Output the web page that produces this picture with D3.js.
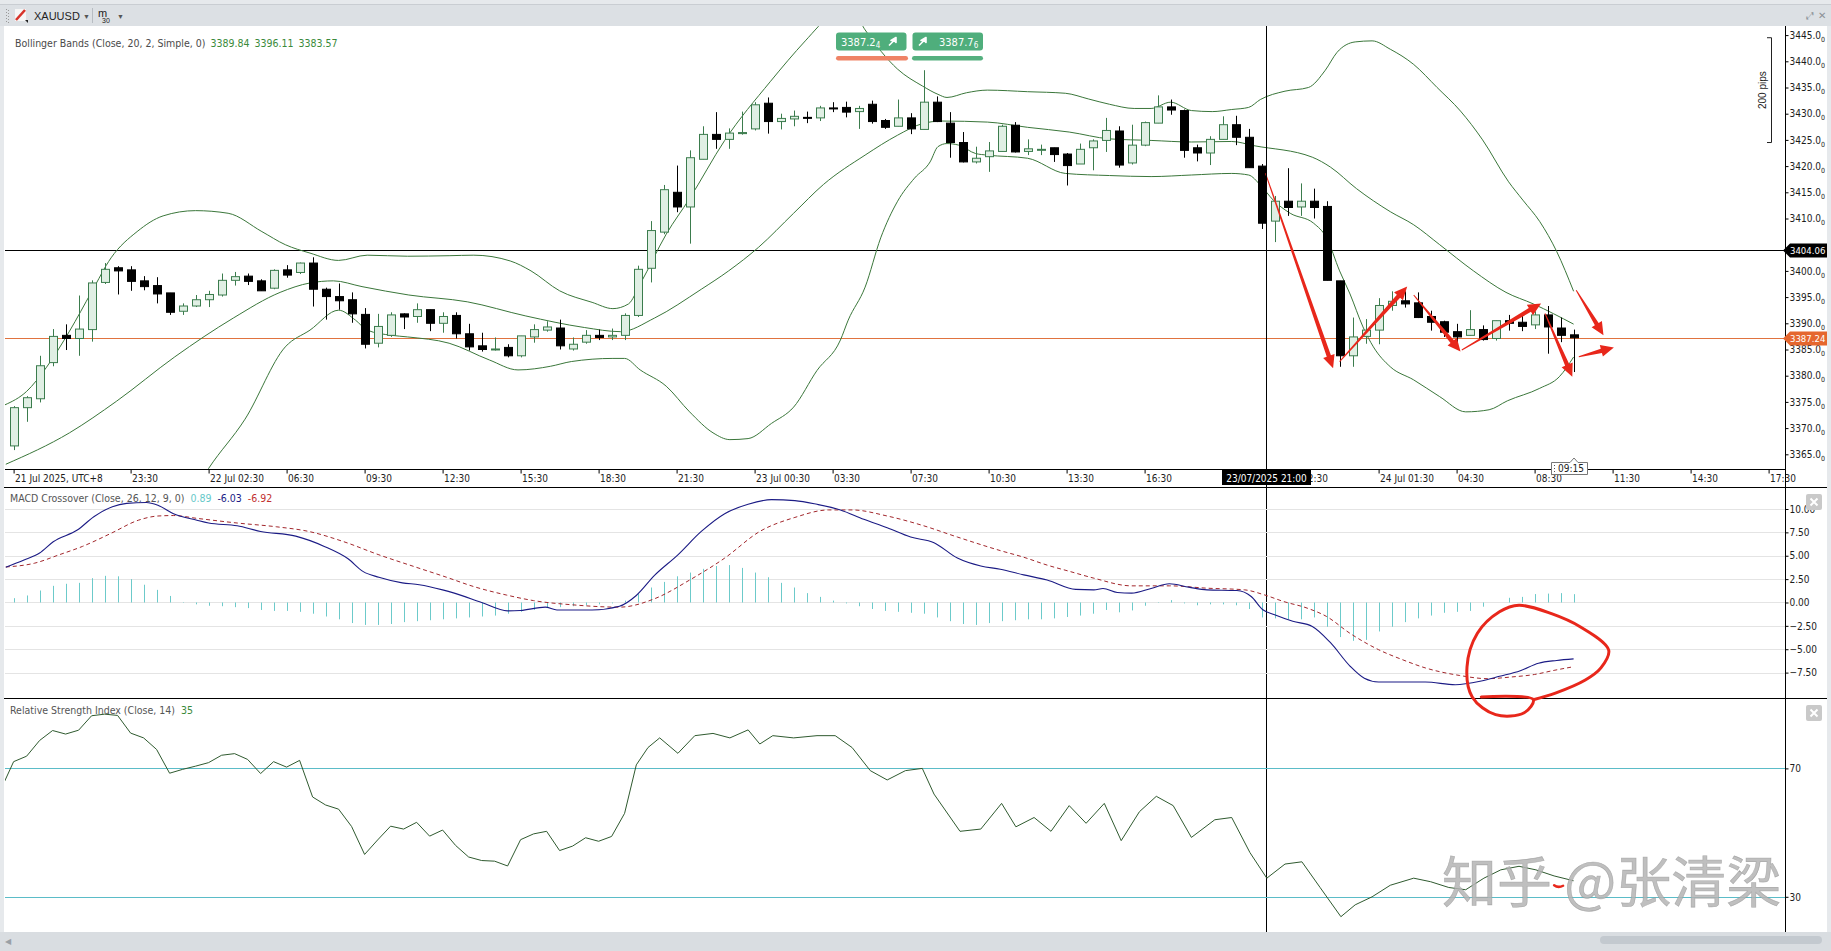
<!DOCTYPE html>
<html><head><meta charset="utf-8">
<script src="https://cdn.jsdelivr.net/npm/d3@7/dist/d3.min.js"></script>
<style>
html,body{margin:0;padding:0;background:#e6e9ec;}
svg{display:block}
</style>
</head><body>
<svg id="c" width="1831" height="951"></svg>
<script>
// ---------------- DATA ----------------
// 30-minute candles, index 0 = 21 Jul 19:00 (UTC+8) ... index 120 = 24 Jul 10:00
const opens=[3366.6,3373.9,3375.6,3382.5,3387.7,3387.1,3388.8,3397.8,3400.6,3400.2,
 3398.1,3397.2,3395.8,3392.3,3393.3,3394.5,3395.4,3398.2,3399.0,3398.1,
 3396.7,3400.2,3399.7,3401.5,3396.5,3395.1,3394.5,3391.7,3386.2,3387.7,
 3391.8,3391.3,3392.6,3390.0,3391.5,3388.0,3385.7,3385.0,3385.4,3383.8,
 3387.4,3388.7,3389.1,3385.1,3386.4,3387.7,3387.4,3387.7,3391.5,3400.5,
 3407.4,3415.0,3412.2,3421.3,3426.05,3425.1,3426.2,3427.1,3432.0,3428.5,
 3429.0,3429.3,3429.2,3431.1,3431.2,3430.4,3431.8,3428.7,3427.6,3429.2,
 3427.0,3432.2,3428.2,3424.5,3420.8,3421.8,3422.8,3427.8,3422.8,3423.2,
 3423.5,3422.3,3420.4,3423.5,3424.9,3426.7,3420.6,3424.0,3428.2,3431.3,
 3430.6,3423.5,3422.5,3425.1,3427.9,3425.5,3420.0,3409.5,3413.3,3412.2,
 3413.3,3412.3,3398.1,3383.8,3387.5,3388.7,3393.4,3394.3,3393.9,3391.3,
 3390.3,3388.4,3387.7,3388.8,3387.1,3390.5,3390.2,3389.7,3391.6,3389.1,
 3387.8];
const highs=[3374.2,3376.1,3383.8,3388.9,3389.8,3395.3,3398.2,3401.5,3400.9,3400.9,
 3399.0,3398.8,3395.8,3393.8,3395.4,3396.2,3399.5,3399.8,3399.5,3398.4,
 3400.3,3401.1,3401.6,3402.6,3396.8,3397.6,3395.9,3392.9,3391.8,3392.1,
 3391.9,3393.8,3392.6,3392.1,3392.1,3389.9,3388.2,3387.3,3386.0,3387.6,
 3389.8,3390.4,3390.7,3387.3,3388.7,3388.8,3389.0,3391.9,3401.0,3409.5,
 3416.4,3420.1,3423.0,3427.6,3430.3,3427.2,3430.4,3432.2,3433.1,3430.0,
 3430.6,3430.4,3431.5,3432.2,3432.3,3431.5,3432.5,3429.0,3432.7,3430.1,
 3438.3,3433.3,3430.3,3426.5,3423.7,3424.6,3427.9,3428.4,3425.1,3424.1,
 3423.5,3422.5,3424.3,3425.1,3429.2,3427.6,3427.9,3428.5,3433.5,3432.7,
 3430.8,3424.1,3425.7,3429.5,3429.6,3427.1,3420.4,3414.3,3419.6,3416.7,
 3415.7,3413.3,3398.1,3391.1,3390.8,3394.8,3396.1,3396.1,3395.9,3392.4,
 3390.5,3389.9,3392.5,3389.6,3390.5,3391.6,3391.8,3392.3,3393.3,3391.1,
 3388.8];
const lows=[3365.8,3371.2,3374.9,3381.8,3384.9,3383.8,3386.5,3397.5,3395.5,3396.2,
 3396.3,3393.8,3391.6,3391.6,3393.1,3393.1,3395.1,3397.2,3397.3,3396.2,
 3396.5,3398.7,3399.4,3393.2,3390.7,3392.6,3390.1,3385.2,3385.4,3387.4,
 3388.9,3390.1,3388.5,3388.2,3387.1,3384.8,3384.6,3384.8,3383.5,3383.5,
 3386.3,3388.4,3385.0,3384.8,3386.1,3386.8,3386.8,3386.8,3391.2,3397.8,
 3407.0,3411.2,3405.2,3421.3,3423.3,3423.3,3426.0,3426.8,3426.2,3427.0,
 3427.6,3428.2,3428.6,3430.3,3429.3,3427.1,3428.1,3427.1,3427.6,3426.1,
 3427.0,3428.4,3421.6,3420.7,3420.5,3418.9,3422.8,3422.6,3422.1,3422.1,
 3420.8,3416.3,3420.4,3419.2,3422.7,3419.7,3420.3,3423.8,3428.2,3429.8,
 3421.6,3420.9,3420.2,3425.1,3424.0,3419.7,3408.0,3405.5,3410.5,3410.5,
 3410.0,3398.2,3381.7,3381.7,3386.1,3386.0,3392.4,3393.0,3391.0,3388.6,
 3387.4,3386.1,3387.7,3386.7,3386.7,3388.6,3388.5,3388.9,3384.2,3386.4,
 3380.7];
const closes=[3373.9,3375.8,3381.9,3387.5,3387.1,3388.9,3397.7,3400.3,3400.0,3398.0,
 3397.0,3395.6,3392.1,3393.3,3394.5,3395.5,3398.2,3398.9,3398.0,3396.2,
 3400.1,3399.2,3401.5,3396.5,3395.1,3394.3,3391.8,3386.0,3389.4,3391.6,
 3391.2,3392.6,3390.0,3391.3,3388.0,3385.5,3385.0,3385.1,3383.8,3387.6,
 3388.8,3389.3,3385.7,3386.0,3387.7,3387.3,3387.7,3391.5,3400.3,3407.7,
 3415.5,3412.2,3421.6,3426.05,3425.1,3426.3,3426.4,3431.7,3428.5,3429.1,
 3429.5,3429.25,3431.1,3431.05,3430.3,3431.0,3428.5,3427.4,3429.2,3427.1,
 3432.2,3428.5,3424.5,3420.8,3421.5,3422.9,3427.6,3422.7,3423.3,3423.2,
 3422.2,3420.1,3423.2,3424.8,3426.8,3420.2,3424.0,3428.3,3431.3,3430.7,
 3423.0,3422.5,3425.1,3427.9,3425.5,3419.7,3409.1,3413.3,3412.1,3413.3,
 3412.1,3398.2,3383.8,3387.4,3388.7,3393.4,3394.2,3393.7,3391.1,3390.2,
 3388.3,3387.4,3388.8,3386.9,3390.5,3390.0,3389.4,3391.6,3389.3,3387.7,
 3387.24];

// Bollinger bands: [candle index, price]
const bbUpper=[[-0.7,3374.4],[1,3377],[2.5,3381.5],[4.3,3388.5],[6,3396],[7.5,3402.5],[9.5,3407.5],[11.5,3410.5],[14,3411.5],[16.5,3411],[19.1,3407.5],[20.9,3405],[22.8,3403.4],[25,3402],[27.2,3403],[30.3,3402.8],[33.5,3402.9],[35.4,3403],[38.2,3401.9],[39.8,3400],[42,3396.2],[44.5,3394],[46.1,3392.8],[47.3,3393.7],[48.2,3397.5],[50.2,3407],[52,3413.8],[54.7,3424.9],[58.2,3436.1],[60.9,3443.9],[62.9,3449],[64.2,3451],[65.5,3446],[68,3438.5],[69.9,3435.3],[71.1,3433.7],[71.8,3433.1],[73.3,3434],[74.9,3434.5],[78,3434.2],[80.9,3433.9],[82.7,3432.8],[84.3,3431.8],[86.2,3431],[87.5,3431],[89,3432.2],[90.6,3430.6],[92.2,3430.4],[93.7,3430.8],[95,3431.2],[95.9,3432.7],[97.8,3434.3],[99.6,3435],[100.9,3438.3],[101.8,3441.7],[103.2,3443.7],[104.5,3443.9],[105.9,3442.3],[107.7,3439.4],[109.5,3435],[111.3,3430.5],[113,3425],[115,3417],[116.1,3413.5],[117.4,3409.4],[118.7,3403.7],[120,3396.11]];
const bbMiddle=[[-0.6,3363.1],[4.3,3369.1],[7.9,3375.1],[12.4,3383.6],[16.9,3391],[20.5,3395.9],[22.8,3397.7],[24.6,3398.1],[26.8,3397],[30.4,3395.4],[34.9,3394.1],[39.4,3391.4],[43.9,3389.2],[46.7,3388.4],[49.3,3391],[52.9,3396.5],[55,3400],[57.3,3404.5],[60,3411],[62.3,3416.5],[65.5,3422.1],[68,3425.9],[69.9,3428.1],[71.4,3428.6],[74.9,3428.4],[78,3427.4],[81.2,3426.5],[84.3,3425.2],[87.5,3424.9],[90.6,3424.6],[93.7,3424.7],[95.4,3423.9],[99.9,3421.7],[101.3,3419.8],[103.3,3415.7],[105.9,3411.3],[107.7,3408.8],[109.7,3405],[112.3,3400],[114.8,3395.9],[116.9,3393.7],[120,3389.84]];
const bbLower=[[12.5,3352],[15,3362.3],[17.8,3371.7],[20.9,3385.5],[22.8,3388.7],[25,3392.5],[26.3,3390.6],[27.2,3388.7],[29.1,3387.7],[30.3,3387.4],[33.5,3386.2],[36.6,3383],[38.8,3381.1],[41.3,3381.8],[42.9,3382.7],[46.1,3383.3],[47,3383.3],[48.2,3381.1],[50.2,3378],[52,3373.1],[53.8,3369.1],[55.1,3367.8],[56.5,3368],[58.3,3370.9],[60,3374],[61.8,3381],[63.6,3386.8],[64.2,3390.6],[65.5,3396.9],[66.7,3406.3],[68,3413.3],[69.3,3417.7],[70.5,3420.8],[71.1,3423.7],[71.8,3424.3],[72.7,3424],[74,3422.4],[74.9,3422.1],[78,3421.5],[80.9,3418.6],[84.3,3418.2],[87.5,3418],[90.6,3418.3],[93.7,3418.6],[95,3418.3],[95.9,3416.4],[96.9,3413.5],[98.2,3411],[100,3409.1],[101,3406.3],[102,3400],[102.8,3395.6],[103.8,3389.3],[104.6,3385.5],[105.9,3381.7],[107.7,3379.2],[109.7,3376],[111.7,3373.1],[113.5,3373.5],[114.9,3375.2],[117.4,3377.6],[118.9,3379.8],[120,3383.57]];

// MACD (26,12,9)
const macdLine=[[-0.6,3.77],[0.8,4.55],[2,5.3],[3.05,6.5],[4.9,7.75],[6.2,9.2],[7.6,10.25],[8.7,10.6],[10.2,10.7],[11.1,10.4],[12.3,9.5],[14.1,8.8],[15,8.5],[17.2,8.2],[19,7.6],[21.7,7.1],[23.9,6.0],[25.7,4.7],[26.9,3.3],[28.1,2.7],[29.9,2.1],[31.2,1.9],[33,1.35],[33.9,1.0],[36,0],[38,-0.9],[39,-0.85],[40.9,-0.5],[41.8,-0.8],[44.5,-0.8],[46.6,-0.4],[47.9,0.75],[49.3,2.9],[51.1,5.1],[52.9,7.6],[54.7,9.5],[56.5,10.5],[58.3,11.0],[60.1,10.9],[61.8,10.5],[63.6,9.9],[65.4,8.9],[67.2,8.0],[69,7.0],[70.8,6.4],[72.6,4.75],[74.4,3.9],[75.9,3.56],[77.7,2.95],[79.5,2.4],[81.7,1.4],[83.1,1.35],[83.8,1.5],[84.9,1.07],[86,1.0],[87.5,1.5],[88.9,2.0],[90.4,1.64],[91.8,1.35],[94.1,1.28],[95.2,0.64],[96.1,-0.78],[97,-1.3],[98.4,-2.0],[99.9,-2.56],[101.3,-4.3],[102.8,-6.8],[103.9,-8.1],[105,-8.5],[108.6,-8.5],[110.9,-8.8],[112.9,-8.4],[114.3,-7.9],[115.9,-7.3],[117.3,-6.5],[118.7,-6.2],[120,-6.03]];
const macdSignal=[[-0.6,3.8],[1.6,4.2],[3.5,5.1],[5.3,6.0],[7.5,7.4],[9.6,8.8],[11.1,9.25],[12.3,9.3],[14.1,9.0],[17.2,8.5],[20.2,8.1],[22.7,7.6],[25.4,6.5],[28.1,5.1],[30.9,3.8],[33.3,2.7],[35.4,1.7],[37.9,0.8],[40,0.2],[43,-0.25],[46.6,-0.5],[49.3,0.4],[52,2.4],[54.7,4.75],[57.4,7.6],[60.1,9.1],[62.7,9.9],[64.5,9.9],[67.2,9.25],[69.9,8.25],[72.6,7.0],[75.9,5.55],[77.7,4.84],[79.5,4.0],[81.3,3.3],[83.1,2.6],[86,1.78],[88.9,1.78],[91.8,1.53],[94.7,1.35],[96.2,0.82],[97.7,0.1],[99.5,-0.6],[101,-1.5],[102.8,-3.3],[105,-5.05],[106.8,-6.1],[108.6,-7.0],[111.2,-7.8],[113.4,-8.15],[115.2,-7.97],[117,-7.7],[118.5,-7.26],[119.8,-6.92]];
const macdHist=[0.46,0.75,1.28,1.78,2.0,2.1,2.6,2.85,2.8,2.5,1.9,1.35,0.7,-0.05,
 -0.2,-0.35,-0.4,-0.5,-0.6,-0.8,-0.9,-0.9,-1.0,-1.2,-1.5,-1.8,-2.2,-2.4,-2.4,-2.3,-2.1,-2.0,-1.9,-1.8,-1.7,-1.6,-1.5,-1.4,-1.2,-1.0,-0.8,-0.6,-0.5,-0.4,-0.3,-0.2,-0.1,
 0.2,0.9,1.6,2.2,2.8,3.2,3.6,3.9,4.0,3.7,3.2,2.7,2.1,1.6,1.0,0.6,0.2,-0.1,-0.4,-0.7,-0.9,-1.0,-1.1,-1.2,-1.6,-2.0,-2.3,-2.4,-2.2,
 -2.0,-1.9,-1.8,-1.8,-1.7,-1.55,-1.4,-1.2,-0.8,-1.05,-0.85,-0.35,0.05,0.25,-0.1,-0.3,-0.2,-0.2,-0.3,-0.7,-1.6,-1.7,-1.8,-1.8,-1.6,-2.6,-3.7,-4.1,-4.0,-3.1,-2.6,-2.1,-1.7,-1.4,-1.1,-1.0,-0.9,-0.45,0.0,0.5,0.6,0.9,0.95,1.0,0.89];

// RSI(14)
const rsiLine=[[-0.7,65.9],[0,72.1],[1,73.8],[2,78.7],[3,81.8],[4,80.7],[5,81.9],[6,86.4],[7,86.9],[8,86.5],[9,81.0],[10,79.5],[11,75.9],[12,68.5],[13,69.7],[14,70.7],[15,71.8],[16,74.1],[17,74.6],[18,72.8],[19,68.4],[20,72.1],[21,70.4],[22,72.5],[23,61.1],[24,58.6],[25,57.3],[26,51.9],[27,43.2],[28,47.7],[29,52.0],[30,51.1],[31,53.2],[32,48.9],[33,50.8],[34,46.0],[35,42.4],[36,41.3],[37,41.1],[38,39.6],[39,47.8],[40,49.6],[41,50.4],[42,44.4],[43,45.8],[44,48.4],[45,47.3],[46,48.8],[47,56],[47.9,71.1],[48.8,76.5],[49.7,79.5],[51.1,74.7],[52.4,80.2],[53.8,80.9],[55.1,79.5],[56.5,82.0],[57.4,77.6],[58.4,80.2],[60.0,79.5],[61.8,80.2],[63.2,80.2],[64.5,76.5],[65.9,69.3],[67.2,66.4],[68.6,69.3],[69.9,70.0],[70.8,62.0],[72.8,50.4],[74.4,51.1],[76.0,59.1],[77.1,51.8],[78.5,54.7],[79.8,50.4],[81.2,58.4],[82.5,52.9],[83.9,59.1],[85.2,47.5],[86.6,56.5],[87.9,61.3],[89.2,58.4],[90.6,48.5],[92.4,54.0],[93.7,54.7],[95.1,43.8],[96.4,35.8],[97.8,40.2],[99.1,40.9],[100.5,32.9],[102.1,23.8],[103.2,27.5],[104.5,30.0],[105.9,33.6],[107.7,35.8],[109.0,34.7],[110.4,32.9],[111.7,32.2],[113.1,35.8],[114.4,38.4],[115.8,39.5],[117.1,38.4],[118.5,36.5],[120.0,35.0]];
const rsiLevels=[70,30];

// axes
const tickIdx=[0,9,15,21,27,33,39,45,51,57,63,69,75,81,87,93,99,105,111,117,123,129,135];
const tickLabels=['21 Jul 2025, UTC+8','23:30','22 Jul 02:30','06:30','09:30','12:30','15:30','18:30','21:30','23 Jul 00:30','03:30','07:30','10:30','13:30','16:30','19:30','22:30','24 Jul 01:30','04:30','08:30','11:30','14:30','17:30'];
const priceTicks=[3445,3440,3435,3430,3425,3420,3415,3410,3400,3395,3390,3385,3380,3375,3370,3365];
const macdTicks=[10,7.5,5,2.5,0,-2.5,-5,-7.5];
const bbHeaderValues=['3389.84','3396.11','3383.57'];
const macdHeaderValues=['0.89','-6.03','-6.92'];
const rsiHeaderValue='35';
const currentPrice=3387.24, crossPrice=3404.06, crossIdx=96.35, crossLabel='23/07/2025 21:00';
const quoteBid='3387.2', quoteBidSub='4', quoteAsk='3387.7', quoteAskSub='6';

// hand-drawn annotations (candle index, price)
const arrows=[[96.3,3418.6,101.5,3381.4],[102,3382.7,107.2,3397],[107.7,3395.4,111.3,3384.6],[111.4,3384.9,117.5,3393.8],[117.8,3391.9,119.9,3379.8],[120.2,3396.3,122.3,3387.7],[120.4,3383.6,123.1,3385.4]];
const macdCircle=[[112.9,-10.1],[116.9,-10.4],[116.2,-11.8],[114.0,-12.0],[112.2,-10.1],[111.8,-6.9],[112.6,-3.3],[114.3,-1.0],[115.8,-0.3],[118.3,-1.2],[120.5,-2.6],[122.7,-5.1],[122.1,-7.0],[120.9,-8.3],[118.6,-9.7],[116.9,-10.4]];

// ---------------- DRAW ----------------
const FONT="'DejaVu Sans Condensed','Liberation Sans Narrow',sans-serif";
const FONT2="'Liberation Sans',Arial,sans-serif";
const svg=d3.select('#c');
const PL=5, PR=1785, MT=26, MB=469.5, CT=487.5, CB=698.5, RB=932;

const x=d3.scaleLinear().domain([0,135]).range([13.6,1768.6]);
const yP=d3.scaleLinear().domain([3365,3445]).range([454.3,35.1]);
const yM=d3.scaleLinear().domain([-7.5,10]).range([672.6,509]);
const yR=d3.scaleLinear().domain([30,70]).range([896.8,768.4]);

// frame
svg.append('rect').attr('width',1831).attr('height',951).attr('fill','#e6e9ec');
svg.append('rect').attr('x',0).attr('y',4).attr('width',1831).attr('height',22).attr('fill','#dce0e4');
svg.append('line').attr('x1',0).attr('x2',1831).attr('y1',4.5).attr('y2',4.5).attr('stroke','#c9cdd2');
svg.append('rect').attr('x',4).attr('y',26).attr('width',1823).attr('height',RB-26).attr('fill','#fff');
// scrollbar
svg.append('rect').attr('x',0).attr('y',RB).attr('width',1831).attr('height',951-RB).attr('fill','#d9dde1');
svg.append('rect').attr('x',1600).attr('y',RB+4).attr('width',222).attr('height',8).attr('rx',4).attr('fill','#c3c9cf');
svg.append('text').attr('x',5).attr('y',RB+12).attr('font-size',8).attr('fill','#9aa0a6').text('◀');

// toolbar
const tb=svg.append('g');
for(let i=0;i<5;i++){tb.append('rect').attr('x',6).attr('y',9+i*3).attr('width',1).attr('height',1).attr('fill','#999');tb.append('rect').attr('x',8).attr('y',10+i*3).attr('width',1).attr('height',1).attr('fill','#999');}
tb.append('rect').attr('x',15).attr('y',9).attr('width',11).attr('height',12).attr('fill','#f6f6f6');
tb.append('line').attr('x1',16).attr('y1',20).attr('x2',25).attr('y2',10).attr('stroke','#d7332a').attr('stroke-width',2.6);
tb.append('path').attr('d','M25,20 L28,20 L28,23 Z').attr('fill','#222');
tb.append('text').attr('x',34).attr('y',19.5).attr('font-family',FONT2).attr('font-size',11).attr('fill','#1f1f1f').text('XAUUSD');
tb.append('text').attr('x',83).attr('y',18.5).attr('font-family',FONT2).attr('font-size',7).attr('fill','#555').text('▼');
tb.append('line').attr('x1',92.5).attr('x2',92.5).attr('y1',8).attr('y2',23).attr('stroke','#b7bcc2');
tb.append('text').attr('x',98).attr('y',17).attr('font-family',FONT2).attr('font-size',11).attr('fill','#222').text('m');
tb.append('text').attr('x',102).attr('y',23).attr('font-family',FONT2).attr('font-size',7).attr('fill','#222').text('30');
tb.append('text').attr('x',117).attr('y',18.5).attr('font-family',FONT2).attr('font-size',7).attr('fill','#555').text('▼');
tb.append('text').attr('x',1806).attr('y',19).attr('font-family',FONT2).attr('font-size',10).attr('fill','#8a9096').text('⤢');
tb.append('text').attr('x',1818).attr('y',19).attr('font-family',FONT2).attr('font-size',10).attr('fill','#8a9096').text('✕');

// clips
const defs=svg.append('defs');
defs.append('clipPath').attr('id','cm').append('rect').attr('x',PL).attr('y',MT).attr('width',PR-PL).attr('height',MB-MT);
defs.append('clipPath').attr('id','cc').append('rect').attr('x',PL).attr('y',CT).attr('width',PR-PL).attr('height',CB-CT);
defs.append('clipPath').attr('id','cr').append('rect').attr('x',PL).attr('y',CB).attr('width',PR-PL).attr('height',RB-CB);

// ---- main panel ----
const gm=svg.append('g').attr('clip-path','url(#cm)');
gm.append('line').attr('x1',PL).attr('x2',PR).attr('y1',Math.round(yP(crossPrice))+0.5).attr('y2',Math.round(yP(crossPrice))+0.5).attr('stroke','#000');
gm.append('line').attr('x1',PL).attr('x2',PR).attr('y1',Math.round(yP(currentPrice))+0.5).attr('y2',Math.round(yP(currentPrice))+0.5).attr('stroke','#e0733f');

const bandLine=d3.line().x(d=>x(d[0])).y(d=>yP(d[1])).curve(d3.curveMonotoneX);
[bbUpper,bbMiddle,bbLower].forEach(b=>{
  gm.append('path').attr('d',bandLine(b)).attr('fill','none').attr('stroke','#3a763a').attr('stroke-width',1);
});

const candles=d3.range(opens.length).map(i=>({i,o:opens[i],h:highs[i],l:lows[i],c:closes[i],up:closes[i]>=opens[i]}));
const UPF='#e0efe4', UPS='#3b7c4d';
const cg=gm.append('g');
cg.selectAll('line.w').data(candles).join('line').attr('class','w')
  .attr('x1',d=>Math.round(x(d.i))+0.5).attr('x2',d=>Math.round(x(d.i))+0.5)
  .attr('y1',d=>yP(d.h)).attr('y2',d=>yP(d.l))
  .attr('stroke',d=>d.up?UPS:'#000').attr('stroke-width',1);
cg.selectAll('rect.b').data(candles).join('rect').attr('class','b')
  .attr('x',d=>Math.round(x(d.i))-3.5).attr('width',8)
  .attr('y',d=>Math.min(yP(d.o),yP(d.c)))
  .attr('height',d=>Math.max(1,Math.abs(yP(d.o)-yP(d.c))))
  .attr('fill',d=>d.up?UPF:'#000').attr('stroke',d=>d.up?UPS:'#000').attr('stroke-width',1);

// red arrows
const ag=gm.append('g');
arrows.forEach(a=>{
  const x0=x(a[0]),y0=yP(a[1]),x1=x(a[2]),y1=yP(a[3]);
  const dx=x1-x0,dy=y1-y0,len=Math.hypot(dx,dy),ux=dx/len,uy=dy/len,nx=-uy,ny=ux;
  const hl=13,hw=6,sw=2.2;
  const bx=x1-ux*hl,by=y1-uy*hl;
  const pts=[[x0+nx*0.5,y0+ny*0.5],[bx+nx*sw,by+ny*sw],[bx+nx*hw,by+ny*hw],[x1,y1],[bx-nx*hw,by-ny*hw],[bx-nx*sw,by-ny*sw],[x0-nx*0.5,y0-ny*0.5]];
  ag.append('path').attr('d','M'+pts.map(p=>p.join(',')).join('L')+'Z').attr('fill','#e8271b');
});

// crosshair vertical
svg.append('line').attr('x1',Math.round(x(crossIdx))+0.5).attr('x2',Math.round(x(crossIdx))+0.5).attr('y1',MT).attr('y2',RB).attr('stroke','#000');

// header texts
const hdr=svg.append('text').attr('x',15).attr('y',47).attr('font-family',FONT).attr('font-size',10.5);
hdr.append('tspan').attr('fill','#4a4a4a').text('Bollinger Bands (Close, 20, 2, Simple, 0)');
bbHeaderValues.forEach(v=>hdr.append('tspan').attr('dx',5).attr('fill','#3a8a3a').text(v));

// quote buttons
const qb=svg.append('g').attr('font-family',FONT).attr('font-size',11).attr('fill','#fff');
qb.append('rect').attr('x',836).attr('y',32.5).attr('width',70.5).attr('height',18).attr('rx',3).attr('fill','#4fae7c');
qb.append('rect').attr('x',912.5).attr('y',32.5).attr('width',70.5).attr('height',18).attr('rx',3).attr('fill','#4fae7c');
qb.append('rect').attr('x',836).attr('y',56).attr('width',72).attr('height',4.5).attr('rx',2.2).attr('fill','#ef8366');
qb.append('rect').attr('x',912).attr('y',56).attr('width',71).attr('height',4.5).attr('rx',2.2).attr('fill','#55b07f');
const t1=qb.append('text').attr('x',841).attr('y',46).attr('fill','#fff');
t1.append('tspan').text(quoteBid); t1.append('tspan').attr('font-size',8).attr('dy',2).text(quoteBidSub);
const t2=qb.append('text').attr('x',939).attr('y',46).attr('fill','#fff');
t2.append('tspan').text(quoteAsk); t2.append('tspan').attr('font-size',8).attr('dy',2).text(quoteAskSub);
function upArrow(cx,cy){qb.append('path').attr('d',`M${cx-3},${cy+4} L${cx+2},${cy-1} L${cx-1},${cy-1} L${cx+4},${cy-4} L${cx+4},${cy+1} L${cx+2},${cy-1}`).attr('fill','#fff').attr('stroke','#fff').attr('stroke-width',1.6).attr('stroke-linejoin','round');}
upArrow(892,41.5); upArrow(922,41.5);

// 200 pips ruler
const pr=svg.append('g').attr('stroke','#222');
pr.append('line').attr('x1',1771.5).attr('x2',1771.5).attr('y1',yP(3444.5)).attr('y2',yP(3424.5));
pr.append('line').attr('x1',1767).attr('x2',1771.5).attr('y1',yP(3444.5)).attr('y2',yP(3444.5));
pr.append('line').attr('x1',1767).attr('x2',1771.5).attr('y1',yP(3424.5)).attr('y2',yP(3424.5));
svg.append('text').attr('transform',`translate(1766,${yP(3434.5)}) rotate(-90)`).attr('text-anchor','middle')
  .attr('font-family',FONT2).attr('font-size',10).attr('fill','#222').text('200 pips');

function styleAxis(g){g.selectAll('text').attr('font-family',FONT).attr('font-size',10).attr('fill','#1c1c1c');g.selectAll('line').attr('stroke','#000');}

// x axis
svg.append('line').attr('x1',PL).attr('x2',PR).attr('y1',MB).attr('y2',MB).attr('stroke','#000');
const gx=svg.append('g').attr('transform',`translate(0,${MB})`)
 .call(d3.axisBottom(x).tickValues(tickIdx).tickFormat((d,i)=>tickLabels[i]).tickSize(4).tickSizeOuter(0));
gx.select('.domain').remove(); styleAxis(gx);
gx.selectAll('text').attr('text-anchor','start').attr('dx',1).attr('y',5);
// crosshair time label
const cxp=Math.round(x(crossIdx))+0.5;
svg.append('rect').attr('x',cxp-44.5).attr('y',470).attr('width',89).attr('height',15).attr('fill','#000');
svg.append('text').attr('x',cxp).attr('y',481.5).attr('text-anchor','middle').attr('font-family',FONT).attr('font-size',10).attr('fill','#fff').text(crossLabel);
// current time box
const lx=Math.round(x(120));
svg.append('path').attr('d',`M${lx-22.5},462.5 L${lx-4},462.5 L${lx},458 L${lx+4},462.5 L${lx+13.5},462.5 L${lx+13.5},474.5 L${lx-22.5},474.5 Z`).attr('fill','#fff').attr('stroke','#777');
svg.append('text').attr('x',lx-16).attr('y',472).attr('font-family',FONT).attr('font-size',10).attr('fill','#222').text('09:15');
for(let i=0;i<3;i++) svg.append('rect').attr('x',lx-20).attr('y',465+i*3).attr('width',1).attr('height',1).attr('fill','#555');

// panel separators and right axis line
svg.append('line').attr('x1',4).attr('x2',1827).attr('y1',CT).attr('y2',CT).attr('stroke','#000');
svg.append('line').attr('x1',4).attr('x2',1827).attr('y1',CB).attr('y2',CB).attr('stroke','#000');
svg.append('line').attr('x1',PR+0.5).attr('x2',PR+0.5).attr('y1',MT).attr('y2',RB).attr('stroke','#000');

// price axis
const gy=svg.append('g').attr('transform',`translate(${PR+0.5},0)`)
 .call(d3.axisRight(yP).tickValues(priceTicks).tickSize(3).tickPadding(1).tickSizeOuter(0));
gy.select('.domain').remove(); styleAxis(gy);
gy.selectAll('.tick text').text(d=>d3.format('.1f')(d)).append('tspan').attr('font-size',7).attr('dy',3).text('0');

// price tags
function tag(p,txt,fill){
  const y=Math.round(yP(p))+0.5;
  svg.append('path').attr('d',`M${PR-2},${y} L${PR+5},${y-7} L1827,${y-7} L1827,${y+7} L${PR+5},${y+7} Z`).attr('fill',fill);
  svg.append('text').attr('x',PR+5).attr('y',y+3.5).attr('font-family',FONT).attr('font-size',9.5).attr('fill','#fff').text(txt);
}
tag(crossPrice,crossPrice.toFixed(2),'#000');
tag(currentPrice,currentPrice.toFixed(2),'#e5672f');

// ---- MACD panel ----
const gc=svg.append('g').attr('clip-path','url(#cc)');
macdTicks.forEach(t=>gc.append('line').attr('x1',PL).attr('x2',PR).attr('y1',Math.round(yM(t))+0.5).attr('y2',Math.round(yM(t))+0.5).attr('stroke','#e4e4e4'));
gc.selectAll('line.h').data(macdHist).join('line').attr('class','h')
  .attr('x1',(d,i)=>Math.round(x(i))+0.5).attr('x2',(d,i)=>Math.round(x(i))+0.5)
  .attr('y1',yM(0)).attr('y2',d=>yM(d)).attr('stroke','#6ccaca').attr('stroke-width',1);
const mline=d3.line().x(d=>x(d[0])).y(d=>yM(d[1])).curve(d3.curveMonotoneX);
gc.append('path').attr('d',mline(macdSignal)).attr('fill','none').attr('stroke','#a2272c').attr('stroke-width',1).attr('stroke-dasharray','4,3');
gc.append('path').attr('d',mline(macdLine)).attr('fill','none').attr('stroke','#1b1b85').attr('stroke-width',1.1);
const gma=svg.append('g').attr('transform',`translate(${PR+0.5},0)`)
 .call(d3.axisRight(yM).tickValues(macdTicks).tickSize(3).tickPadding(1).tickFormat(d3.format('.2f')).tickSizeOuter(0));
gma.select('.domain').remove(); styleAxis(gma);
const mh=svg.append('text').attr('x',10).attr('y',501.5).attr('font-family',FONT).attr('font-size',10.5);
mh.append('tspan').attr('fill','#555').text('MACD Crossover (Close, 26, 12, 9, 0)');
const mcol=['#66c9c9','#1b1b85','#c2302e'];
macdHeaderValues.forEach((v,i)=>mh.append('tspan').attr('dx',6).attr('fill',mcol[i]).text(v));
const circ=d3.line().x(d=>x(d[0])).y(d=>yM(d[1])).curve(d3.curveCatmullRom);
svg.append('path').attr('d',circ(macdCircle)).attr('fill','none').attr('stroke','#e8271b').attr('stroke-width',3).attr('stroke-linecap','round').attr('stroke-linejoin','round');

// ---- RSI panel ----
const gr=svg.append('g').attr('clip-path','url(#cr)');
rsiLevels.forEach(l=>gr.append('line').attr('x1',PL).attr('x2',PR).attr('y1',Math.round(yR(l))+0.5).attr('y2',Math.round(yR(l))+0.5).attr('stroke','#5bbcc8'));
const rl=d3.line().x(d=>x(d[0])).y(d=>yR(d[1]));
gr.append('path').attr('d',rl(rsiLine)).attr('fill','none').attr('stroke','#2f5a2f').attr('stroke-width',1);
const gra=svg.append('g').attr('transform',`translate(${PR+0.5},0)`)
 .call(d3.axisRight(yR).tickValues(rsiLevels).tickSize(3).tickPadding(1).tickSizeOuter(0));
gra.select('.domain').remove(); styleAxis(gra);
const rh=svg.append('text').attr('x',10).attr('y',714).attr('font-family',FONT).attr('font-size',10.5);
rh.append('tspan').attr('fill','#555').text('Relative Strength Index (Close, 14)');
rh.append('tspan').attr('dx',6).attr('fill','#3a8a3a').text(rsiHeaderValue);

// close buttons
[[1806,494],[1806,705]].forEach(p=>{
  svg.append('rect').attr('x',p[0]).attr('y',p[1]).attr('width',16).attr('height',16).attr('rx',2).attr('fill','#c9c9c9');
  svg.append('path').attr('d',`M${p[0]+4.5},${p[1]+4.5} L${p[0]+11.5},${p[1]+11.5} M${p[0]+11.5},${p[1]+4.5} L${p[0]+4.5},${p[1]+11.5}`).attr('stroke','#fff').attr('stroke-width',2);
});

// small red mark + watermark
svg.append('path').attr('d',`M${x(118.5)},${yR(33.6)} q4,3 9,0.5`).attr('fill','none').attr('stroke','#e8271b').attr('stroke-width',2.5).attr('stroke-linecap','round');
svg.append('text').attr('x',1442).attr('y',902).attr('font-family',"'Noto Sans CJK SC',sans-serif").attr('font-size',55)
  .attr('fill','#b4b4b4').attr('fill-opacity',0.85).attr('stroke','#8f8f8f').attr('stroke-width',0.6).attr('stroke-opacity',0.6)
  .text('知乎 @张清梁');
</script>
</body></html>
